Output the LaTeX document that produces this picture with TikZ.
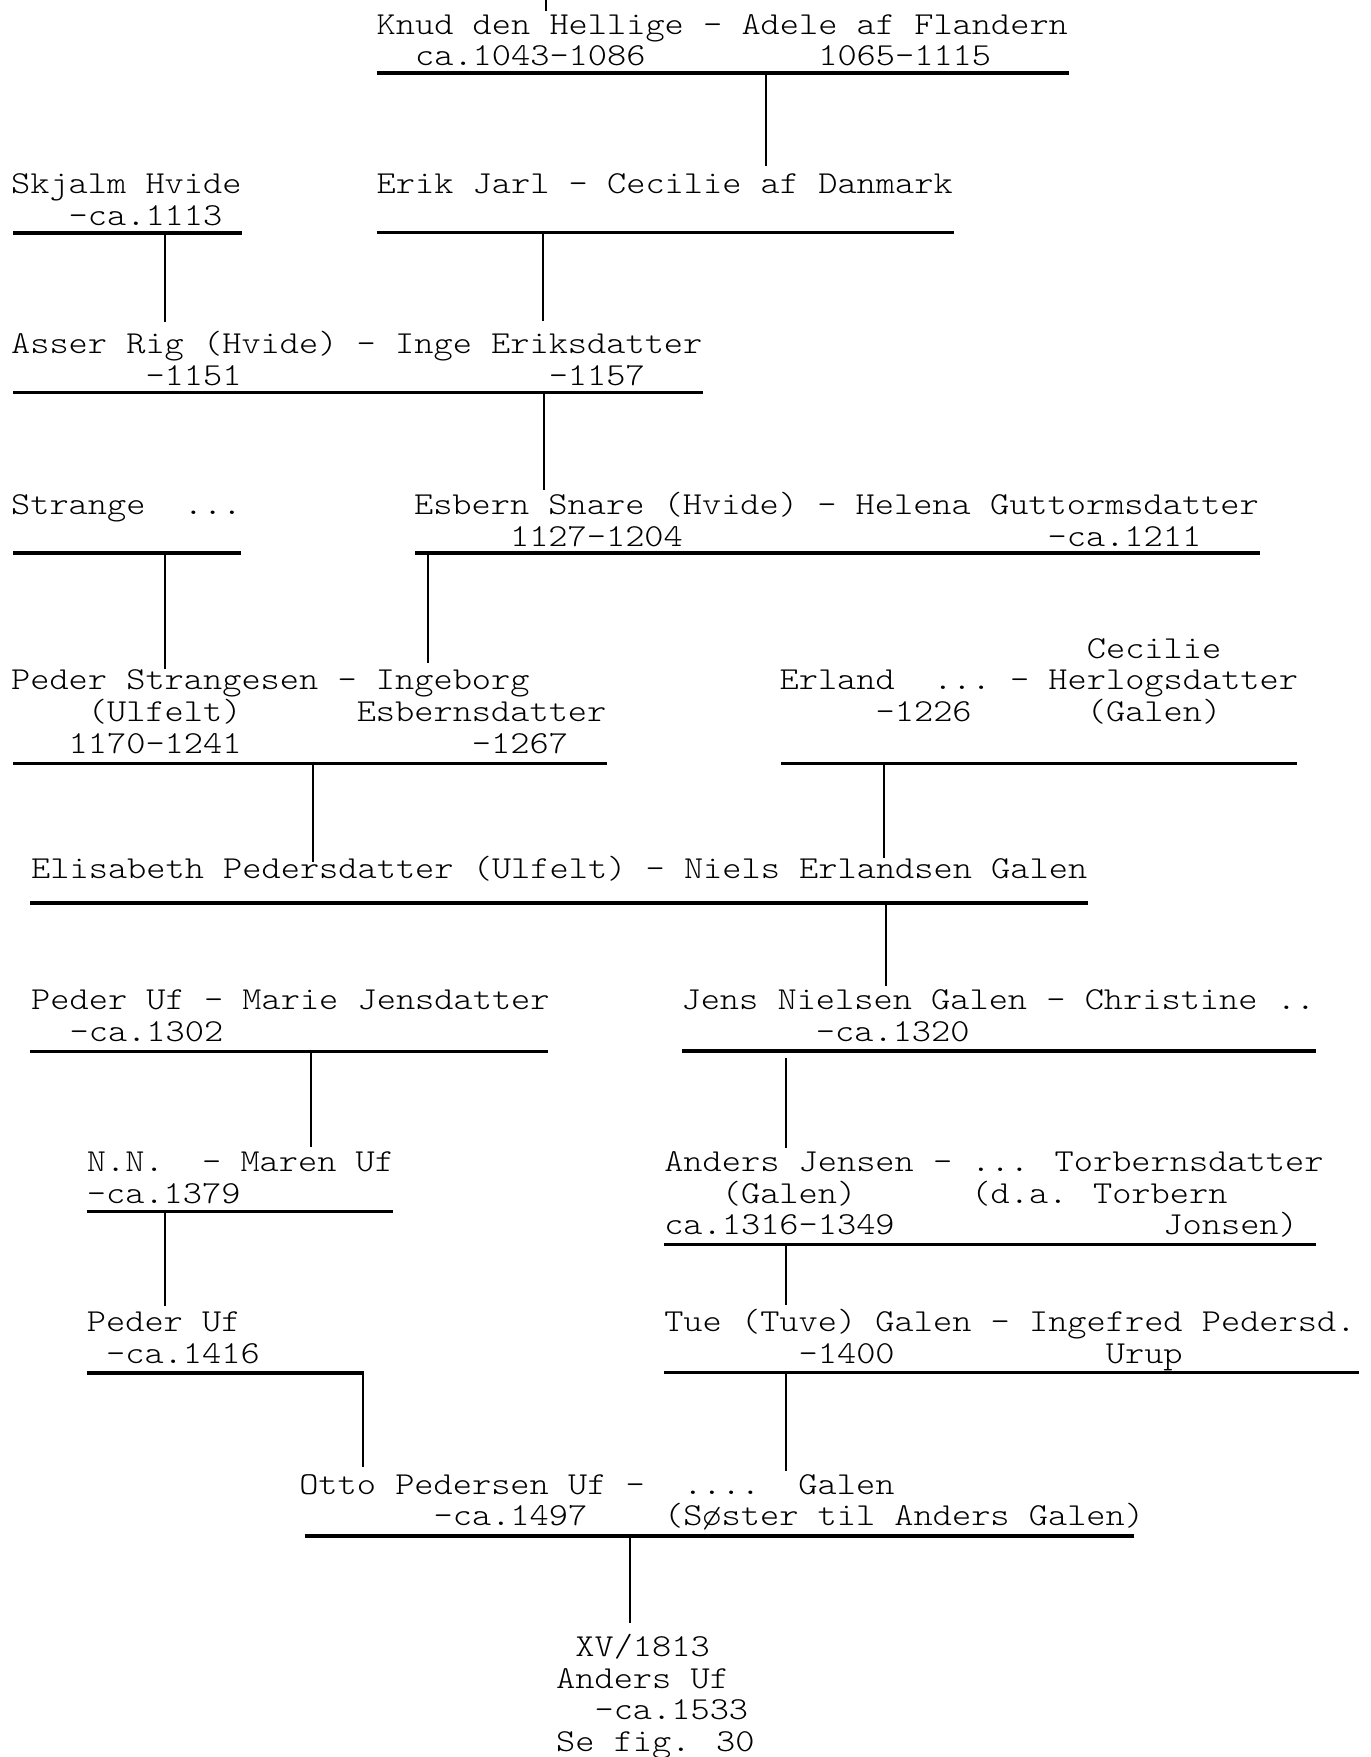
\documentclass[tikz,border=0pt]{standalone}
\usepackage{fontspec}
\newfontfamily\twfont{lmmonolt10-regular}[Extension=.otf, FakeStretch=1.1429]
\tikzset{
  tx/.style={anchor=base west, inner sep=0pt, outer sep=0pt, font={\twfont\fontsize{16}{16}\selectfont}},
  rulebar/.style={line width=1.7pt},
  linkbar/.style={line width=1pt},
}
\begin{document}
\begin{tikzpicture}[x=0.5573pt, y=-0.5573pt]
\useasboundingbox (0,0) rectangle (1230,1576.4);
% ---- texts
\node[tx] (knud1) at (338,30.7) {Knud den Hellige - Adele af Flandern};
\node[tx] (knud2) at (338,59.2) {~~ca.1043-1086~~~~~~~~~1065-1115};
\node[tx] (skj1) at (10,173.5) {Skjalm Hvide};
\node[tx] (skj2) at (10,202) {~~~-ca.1113};
\node[tx] (erik1) at (338,173.5) {Erik Jarl - Cecilie af Danmark};
\node[tx] (asser1) at (10,317) {Asser Rig (Hvide) - Inge Eriksdatter};
\node[tx] (asser2) at (10,345.5) {~~~~~~~-1151~~~~~~~~~~~~~~~~-1157};
\node[tx] (str1) at (10,462) {Strange~~...};
\node[tx] (esb1) at (371.5,462) {Esbern Snare (Hvide) - Helena Guttormsdatter};
\node[tx] (esb2) at (371.5,490.5) {~~~~~1127-1204~~~~~~~~~~~~~~~~~~~-ca.1211};
\node[tx] (ps1) at (10,619) {Peder Strangesen - Ingeborg};
\node[tx] (ps2) at (10,647.5) {~~~~(Ulfelt)~~~~~~Esbernsdatter};
\node[tx] (ps3) at (10,676) {~~~1170-1241~~~~~~~~~~~~-1267};
\node[tx] (er0) at (699.5,590.5) {~~~~~~~~~~~~~~~~Cecilie};
\node[tx] (er1) at (699.5,619) {Erland~~...~-~Herlogsdatter};
\node[tx] (er2) at (699.5,647.5) {~~~~~-1226~~~~~~(Galen)};
\node[tx] (eli1) at (28,788) {Elisabeth Pedersdatter (Ulfelt) - Niels Erlandsen Galen};
\node[tx] (pu1) at (28,906) {Peder Uf - Marie Jensdatter};
\node[tx] (pu2) at (28,934.5) {~~-ca.1302};
\node[tx] (jens1) at (611.5,906) {Jens Nielsen Galen - Christine ..};
\node[tx] (jens2) at (611.5,934.5) {~~~~~~~-ca.1320};
\node[tx] (nn1) at (78,1051) {N.N.~~-~Maren Uf};
\node[tx] (nn2) at (78,1079.5) {-ca.1379};
\node[tx] (and1) at (596,1051) {Anders Jensen - ... Torbernsdatter};
\node[tx] (and2) at (596,1079.5) {~~~(Galen)~~~~~~(d.a. Torbern};
\node[tx] (and3) at (596,1108) {ca.1316-1349~~~~~~~~~~~~~~Jonsen)};
\node[tx] (pud1) at (78,1195) {Peder Uf};
\node[tx] (pud2) at (78,1223.5) {~-ca.1416};
\node[tx] (tue1) at (596,1195) {Tue (Tuve) Galen - Ingefred Pedersd.};
\node[tx] (tue2) at (596,1223.5) {~~~~~~~-1400~~~~~~~~~~~Urup};
\node[tx] (otto1) at (268.5,1340.5) {Otto Pedersen Uf -~~....~~Galen};
\node[tx] (otto2) at (268.5,1369) {~~~~~~~-ca.1497~~~~(Søster til Anders Galen)};
\node[tx] (au1) at (499,1486) {~XV/1813};
\node[tx] (au2) at (499,1514.5) {Anders Uf};
\node[tx] (au3) at (499,1543) {~~-ca.1533};
\node[tx] (au4) at (499,1571.5) {Se fig. 30};
% ---- rules (couple lines)
\coordinate (r1a) at (338,65.5);   \coordinate (r1b) at (959,65.5);
\coordinate (r2a) at (12,209);     \coordinate (r2b) at (217,209);
\coordinate (r3a) at (338,208.5);  \coordinate (r3b) at (856,208.5);
\coordinate (r4a) at (12,352);     \coordinate (r4b) at (631,352);
\coordinate (r5a) at (12,496);     \coordinate (r5b) at (216,496);
\coordinate (r6a) at (372.5,496);  \coordinate (r6b) at (1130.5,496);
\coordinate (r7a) at (12,685);     \coordinate (r7b) at (544.5,685);
\coordinate (r8a) at (701,685);    \coordinate (r8b) at (1164,685);
\coordinate (r9a) at (27,810);     \coordinate (r9b) at (976.6,810);
\coordinate (r10a) at (27,943.5);  \coordinate (r10b) at (492,943.5);
\coordinate (r11a) at (612,943);   \coordinate (r11b) at (1181,943);
\coordinate (r12a) at (78,1087);   \coordinate (r12b) at (353,1087);
\coordinate (r13a) at (596,1116.5);\coordinate (r13b) at (1181,1116.5);
\coordinate (r14a) at (78,1232);   \coordinate (r14b) at (326.6,1232);
\coordinate (r15a) at (596,1231.5);\coordinate (r15b) at (1219,1231.5);
\coordinate (r16a) at (273.4,1378);\coordinate (r16b) at (1017,1378);
\foreach \i in {1,...,16} { \draw[rulebar] (r\i a) -- (r\i b); }
% ---- descent links
\coordinate (v0a) at (490,0);      \coordinate (v0b) at (490,10);
\coordinate (v1a) at (687.5,65.5); \coordinate (v1b) at (687.5,149);
\coordinate (v2a) at (148,209);    \coordinate (v2b) at (148,289);
\coordinate (v3a) at (487,208.5);  \coordinate (v3b) at (487,288);
\coordinate (v4a) at (488,352);    \coordinate (v4b) at (488,440);
\coordinate (v5a) at (148,496);    \coordinate (v5b) at (148,600);
\coordinate (v6a) at (384,496);    \coordinate (v6b) at (384,595);
\coordinate (v7a) at (281,685);    \coordinate (v7b) at (281,773);
\coordinate (v8a) at (793,685);    \coordinate (v8b) at (793,770);
\coordinate (v9a) at (794.5,810);  \coordinate (v9b) at (794.5,885);
\coordinate (v10a) at (279,943.5); \coordinate (v10b) at (279,1029);
\coordinate (v11a) at (705.5,949.5);\coordinate (v11b) at (705.5,1030);
\coordinate (v12a) at (148.4,1087);\coordinate (v12b) at (148.4,1172);
\coordinate (v13a) at (705.5,1116.5);\coordinate (v13b) at (705.5,1171);
\coordinate (v14a) at (325.8,1232);\coordinate (v14b) at (325.8,1316);
\coordinate (v15a) at (705.5,1231.5);\coordinate (v15b) at (705.5,1320);
\coordinate (v16a) at (564.8,1378);\coordinate (v16b) at (564.8,1456);
\foreach \i in {0,...,16} { \draw[linkbar] (v\i a) -- (v\i b); }
\end{tikzpicture}
\end{document}
